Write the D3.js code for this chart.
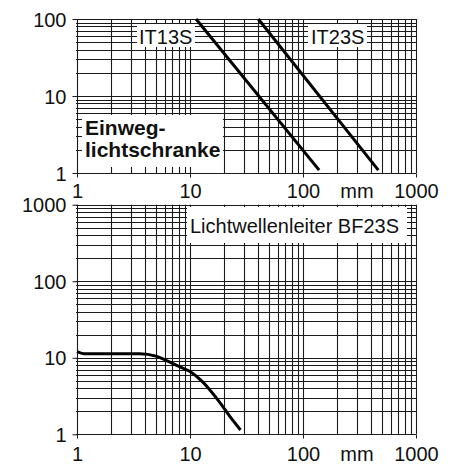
<!DOCTYPE html>
<html><head><meta charset="utf-8">
<script src="https://cdn.jsdelivr.net/npm/d3@7"></script>
<style>
html,body{margin:0;padding:0;background:#fff;}
svg text{font-family:"Liberation Sans",Arial,sans-serif;fill:#111;}
</style></head>
<body><svg id="c" width="453" height="466"></svg>
<script>
// ---- data ----
const xTickLabels = [1, 10, 100, 1000];
const xUnit = "mm";
const topYTicks = [1, 10, 100];
const bottomYTicks = [1, 10, 100, 1000];
// IT13S / IT23S (straight lines on log-log)
const it13sX = [11.3, 139];
const it13sY = [100, 1.09];
const it23sX = [40.2, 464];
const it23sY = [100, 1.09];
// BF23S curve
const bf23sX = [1, 1.15, 2, 3.6, 5, 6.2, 8, 10, 13, 15, 18.4, 22.6, 28];
const bf23sY = [12, 11.3, 11.3, 11.3, 10.5, 9.2, 7.7, 6.6, 4.8, 3.8, 2.6, 1.7, 1.14];
const labelIT13 = "IT13S";
const labelIT23 = "IT23S";
const labelEinweg = ["Einweg-", "lichtschranke"];
const labelBF = "Lichtwellenleiter BF23S";

const svg = d3.select("#c");
const x = d3.scaleLog().domain([1, 1000]).range([77, 416]);
const yTop = d3.scaleLog().domain([1, 100]).range([173, 19]);
const yBot = d3.scaleLog().domain([1, 1000]).range([434.3, 204.7]);
const gridColor = "#1a1a1a";

function panel(y, yTicks, labelY) {
  const g = svg.append("g");
  const xs = x.ticks();
  const ys = y.ticks();
  const [x0, x1] = x.range();
  const [yb, yt] = y.range();
  g.selectAll(".v").data(xs).join("line")
    .attr("x1", d => Math.round(x(d)) + 0.5).attr("x2", d => Math.round(x(d)) + 0.5)
    .attr("y1", yt).attr("y2", yb)
    .attr("stroke", gridColor).attr("stroke-width", 1.1);
  g.selectAll(".h").data(ys).join("line")
    .attr("y1", d => Math.round(y(d)) + 0.5).attr("y2", d => Math.round(y(d)) + 0.5)
    .attr("x1", x0 - 1).attr("x2", x1)
    .attr("stroke", gridColor).attr("stroke-width", 1.1);
  // y axis
  const ya = d3.axisLeft(y).tickValues(yTicks).tickSize(5).tickPadding(6).tickFormat(d3.format("d"));
  const yg = g.append("g").attr("transform", `translate(${Math.round(x0)+0.5},0)`).call(ya);
  yg.select(".domain").remove();
  yg.selectAll("line").attr("stroke", gridColor);
  yg.selectAll("text").attr("font-size", 20).attr("dy", "0.36em");
  // x axis
  const xa = d3.axisBottom(x).tickValues(xTickLabels).tickSize(4).tickPadding(labelY).tickFormat(d3.format("d"));
  const xg = g.append("g").attr("transform", `translate(0,${Math.round(yb)+0.5})`).call(xa);
  xg.select(".domain").remove();
  xg.selectAll("line").attr("stroke", gridColor);
  xg.selectAll("text").attr("font-size", 20);
  xg.append("text").attr("x", x(300)).attr("y", labelY + 4).attr("dy", "0.71em")
    .attr("text-anchor", "middle").attr("font-size", 20).attr("fill", "#111").text(xUnit);
  return g;
}

const gTop = panel(yTop, topYTicks, 6);
const gBot = panel(yBot, bottomYTicks, 7.8);

function box(g, bx, by, bw, bh) {
  g.append("rect").attr("x", bx).attr("y", by).attr("width", bw).attr("height", bh).attr("fill", "#fff");
}
// top labels
box(gTop, 137, 24, 58, 23);
gTop.append("text").attr("x", 139).attr("y", 44).attr("font-size", 20).text(labelIT13);
box(gTop, 308, 24, 59, 23);
gTop.append("text").attr("x", 311).attr("y", 44).attr("font-size", 20).text(labelIT23);
box(gTop, 82, 115, 141, 52);
gTop.selectAll(".ein").data(labelEinweg).join("text")
  .attr("x", 85).attr("y", (d, i) => 135 + i * 22)
  .attr("font-size", 21).attr("font-weight", "bold").text(d => d);

box(gBot, 187, 207, 220, 36);
gBot.append("text").attr("x", 190).attr("y", 233).attr("font-size", 20).text(labelBF);

// curves
const lineTop = d3.line().x(d => x(d[0])).y(d => yTop(d[1]));
[[it13sX, it13sY], [it23sX, it23sY]].forEach(([xs, ys]) => {
  gTop.append("path").datum(xs.map((v, i) => [v, ys[i]]))
    .attr("d", lineTop).attr("fill", "none").attr("stroke", "#000").attr("stroke-width", 3);
});
const lineBot = d3.line().x(d => x(d[0])).y(d => yBot(d[1])).curve(d3.curveMonotoneX);
gBot.append("path").datum(bf23sX.map((v, i) => [v, bf23sY[i]]))
  .attr("d", lineBot).attr("fill", "none").attr("stroke", "#000").attr("stroke-width", 3);
</script></body></html>
